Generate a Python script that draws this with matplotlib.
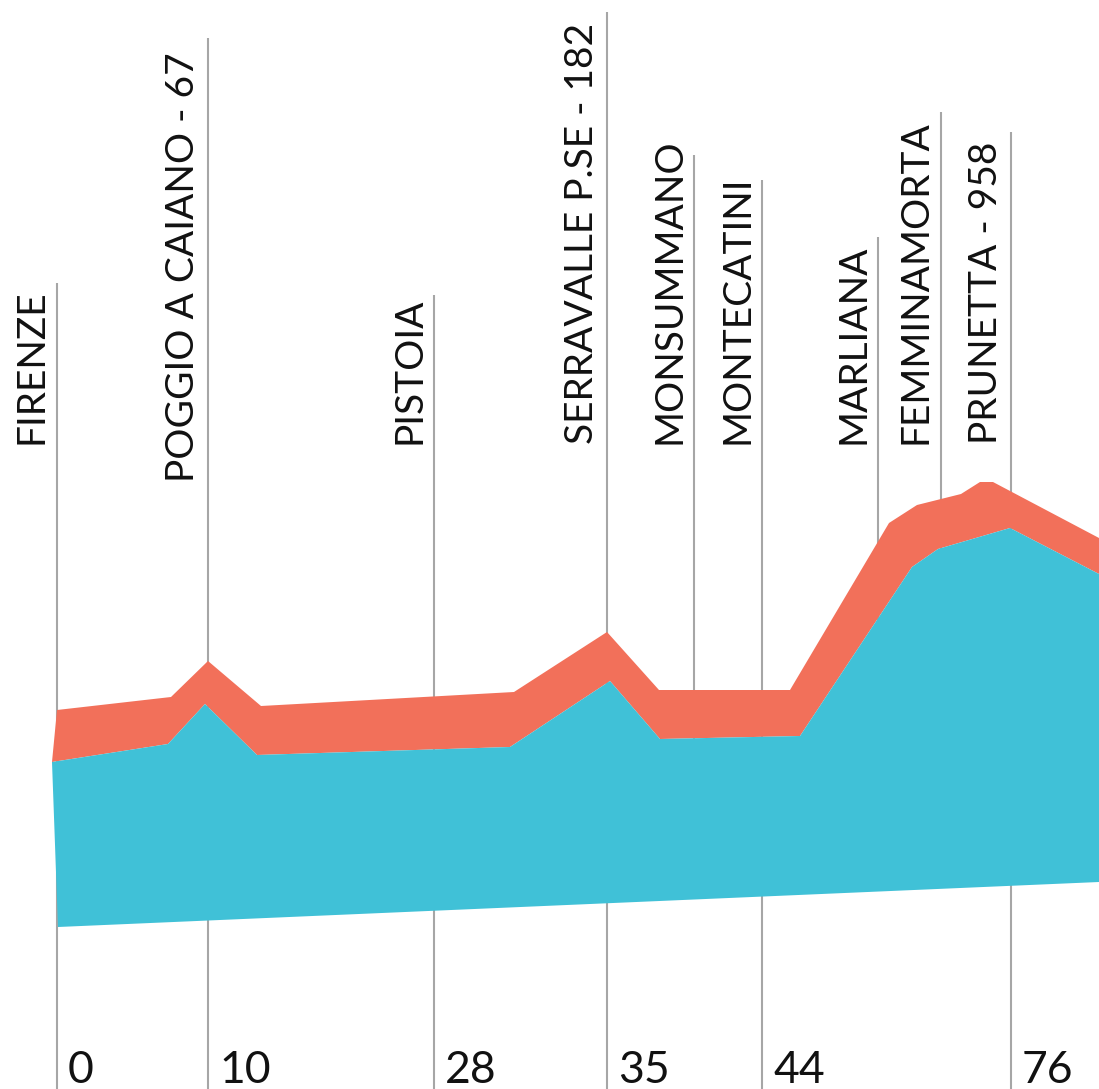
import matplotlib
matplotlib.use("Agg")
import matplotlib.pyplot as plt

# profile of the stage, chart units (x along the route, y height)
top_x = [52, 168, 205, 257, 510, 610, 660, 800, 912, 938, 1010, 1099]
top_y = [327, 345, 385, 334, 342, 408, 350, 353, 522, 540, 561, 515]
base_x = [1099, 58]
base_y = [207, 162]

band_x = [52, 57, 171, 208, 261, 514, 607, 659, 790, 889, 917, 961, 980, 993, 1099]
band_y = [327, 379, 392, 428, 383, 397, 457, 399, 399, 566, 584, 595, 607, 607, 551]

# stops
stop_names = ["FIRENZE", "POGGIO A CAIANO - 67", "PISTOIA", "SERRAVALLE P.SE - 182",
              "MONSUMMANO", "MONTECATINI", "MARLIANA", "FEMMINAMORTA", "PRUNETTA - 958"]
stop_x = [57, 208, 434, 607, 694, 762, 878, 941, 1011]
stop_top = [806, 1051, 794, 1077, 934, 909, 852, 977, 957]
stop_km = ["0", "10", "28", "35", "", "44", "", "", "76"]

TEAL = "#40c1d7"
RED = "#f2705a"
GREY = "#a6a6a6"

plt.rcParams['font.family'] = ['Lato', 'DejaVu Sans']

fig = plt.figure(figsize=(10.99, 10.89), dpi=100)
ax = fig.add_axes([0, 0, 1, 1])
ax.set_xlim(0, 1099)
ax.set_ylim(0, 1089)
ax.axis("off")

# vertical markers (behind the profile)
for x, top, km in zip(stop_x, stop_top, stop_km):
    bottom = 0 if km else 300
    ax.plot([x, x], [bottom, top], color=GREY, lw=1.5, zorder=1, solid_capstyle="butt")

# red band on top of the profile
ax.fill(band_x + top_x[::-1], band_y + top_y[::-1], color=RED, lw=0, zorder=2)
# main profile
ax.fill(top_x + base_x, top_y + base_y, color=TEAL, lw=0, zorder=3)

# names, written upwards left of each marker
for i, (name, x) in enumerate(zip(stop_names, stop_x)):
    y0 = 607 if i == 1 else 645
    ax.text(x - 14, y0, name, rotation=90, rotation_mode="anchor",
            ha="left", va="baseline", fontsize=28, fontweight="normal",
            color="#111111", zorder=4)

# distances along the bottom
for x, km in zip(stop_x, stop_km):
    if km:
        ax.text(x + 11, 6, km, ha="left", va="baseline", fontsize=32,
                fontweight="normal", color="#111111", zorder=4)

fig.savefig("out.png", dpi=100)
